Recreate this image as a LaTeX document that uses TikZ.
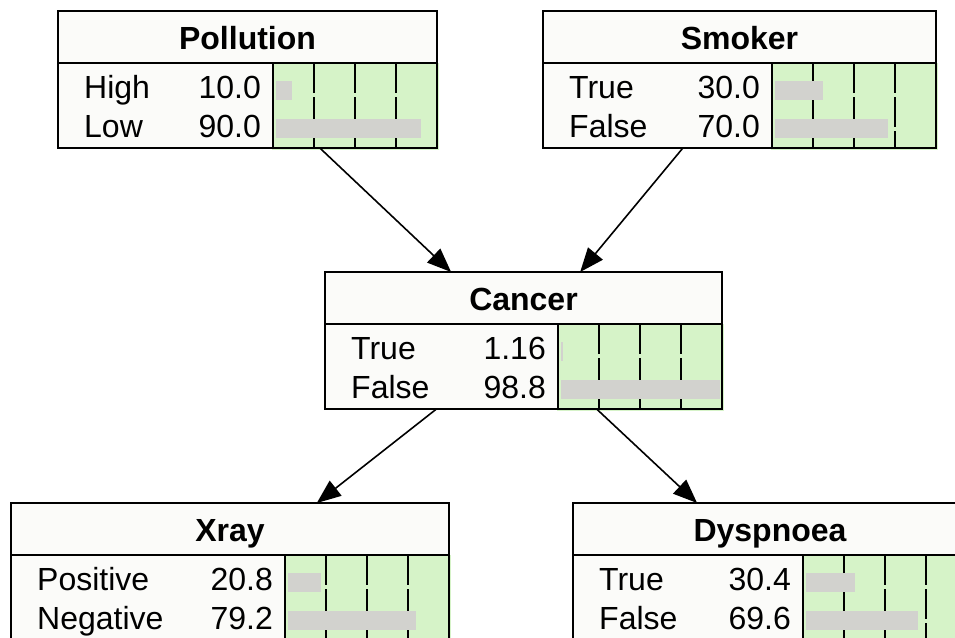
\documentclass[tikz,border=0pt]{standalone}
\usepackage{fontspec}
\setmainfont{Liberation Sans}
\usetikzlibrary{arrows.meta}
\definecolor{greenfill}{RGB}{214,243,200}
\definecolor{barfill}{RGB}{210,210,206}
\definecolor{boxbg}{RGB}{251,251,249}
\tikzset{
  boxnode/.style={draw=black, fill=boxbg, line width=1.6pt, inner sep=0pt, outer sep=0pt, anchor=north west},
  boxline/.style={draw=black, line width=1.6pt},
  gridline/.style={draw=black, line width=1.4pt, dash pattern=on 30pt off 4pt},
  txt/.style={inner sep=0pt, font=\fontsize{32}{32}\selectfont},
  arr/.style={draw=black, line width=1.6pt, -{Triangle[length=24pt,width=19pt]}}
}
\newcommand\bnetbox[9]{%
  \pgfmathsetmacro\bw{#4+164}%
  \pgfmathsetmacro\gx{#2+#4}%
  \pgfmathsetmacro\rx{#2+#4+164}%
  \pgfmathsetmacro\bt{#3+52}%
  \pgfmathsetmacro\bb{#3+137}%
  \pgfmathsetmacro\cx{#2+\bw/2}%
  \node[boxnode, minimum width=\bw pt, minimum height=137pt] (#1) at (#2,#3) {};
  \fill[greenfill] (\gx-1,\bt) rectangle (\rx+2,\bb+2);
  \draw[gridline] (\gx+41,\bt) -- (\gx+41,\bb);
  \draw[gridline] (\gx+82,\bt) -- (\gx+82,\bb);
  \draw[gridline] (\gx+123,\bt) -- (\gx+123,\bb);
  \fill[barfill] (\gx+3,\bt+18) rectangle ++(#7*1.61,19);
  \fill[barfill] (\gx+3,\bt+56) rectangle ++(#9*1.61,19);
  \draw[boxline] (#2,\bt) -- (\rx,\bt);
  \draw[boxline] (\gx,\bt) -- (\gx,\bb);
  \draw[boxline] (#1.north west) rectangle (#1.south east);
  \node[txt, anchor=base, font=\fontsize{32}{32}\selectfont\bfseries] (#1-title) at (\cx,#3+38) {#5};
  \node[txt, anchor=base west] (#1-l1) at (#2+26,\bt+35) {#6};
  \node[txt, anchor=base east] (#1-v1) at (\gx-12,\bt+35) {#7};
  \node[txt, anchor=base west] (#1-l2) at (#2+26,\bt+74) {#8};
  \node[txt, anchor=base east] (#1-v2) at (\gx-12,\bt+74) {#9};
}
\begin{document}
\begin{tikzpicture}[x=1pt,y=-1pt]
\clip (0,0) rectangle (955,637);
\fill[white] (0,0) rectangle (955,637);
\bnetbox{pol}{58}{11}{215}{Pollution}{High}{10.0}{Low}{90.0}
\bnetbox{smk}{543}{11}{229}{Smoker}{True}{30.0}{False}{70.0}
\bnetbox{can}{325}{272}{233}{Cancer}{True}{1.16}{False}{98.8}
\bnetbox{xra}{11}{503}{274}{Xray}{Positive}{20.8}{Negative}{79.2}
\bnetbox{dys}{573}{503}{230}{Dyspnoea}{True}{30.4}{False}{69.6}
\draw[arr] (pol) -- (can);
\draw[arr] (smk) -- (can);
\draw[arr] (can) -- (xra);
\draw[arr] (can) -- (dys);
\end{tikzpicture}
\end{document}
